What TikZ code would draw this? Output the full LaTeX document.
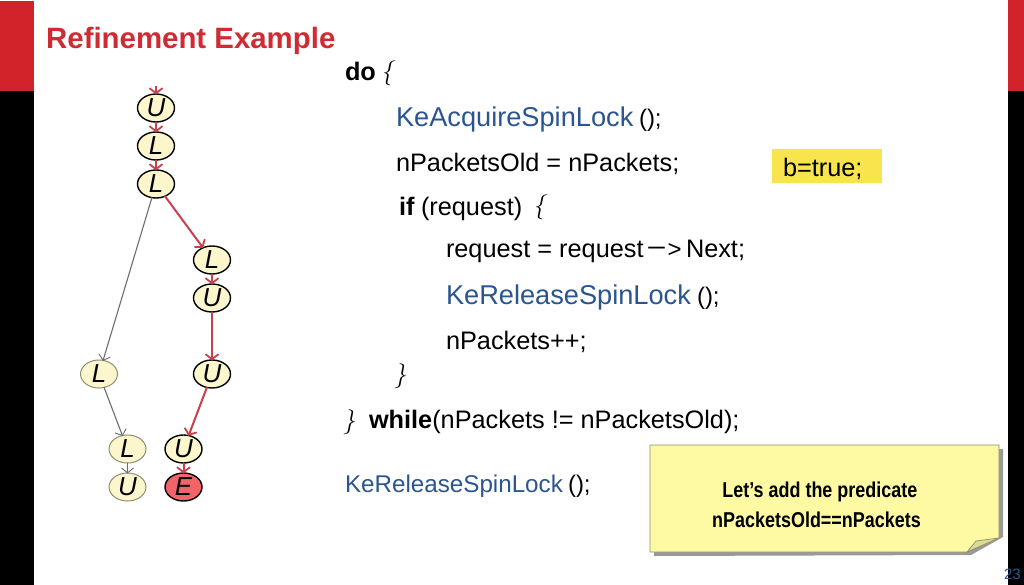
\documentclass[tikz,border=0pt]{standalone}
\usepackage{fontspec}
\setmainfont{Liberation Sans}
\usetikzlibrary{shapes.geometric,arrows.meta}
\definecolor{bandred}{HTML}{D2232A}
\definecolor{titlered}{HTML}{CF2B33}
\definecolor{arrowred}{HTML}{C8404A}
\definecolor{nodefill}{HTML}{FBF6CB}
\definecolor{codeblue}{HTML}{2A5590}
\definecolor{noteyellow}{HTML}{FEFAA4}
\definecolor{foldyellow}{HTML}{DEDB92}
\definecolor{hilite}{HTML}{F8E44C}
\definecolor{errfill}{HTML}{F2646A}
\tikzset{
  x=1pt,y=-1pt,
  band/.style={fill=#1,draw=none},
  code/.style={anchor=base west,inner sep=0pt,outer sep=0pt,font=\fontsize{25.3}{26}\selectfont,text=black},
  big code/.style={code,font=\fontsize{27.2}{28}\selectfont},
  brace/.style={code,xslant=.2,font=\fontsize{28}{28}\selectfont},
  cfg/.style={ellipse,draw=black,line width=1.4pt,fill=nodefill,minimum width=37pt,minimum height=28pt,inner sep=0pt,font=\fontsize{26}{26}\itshape\selectfont},
  dim cfg/.style={cfg,draw=gray!80!olive,line width=1pt},
  redge/.style={draw=arrowred,line width=2pt,-{Straight Barb[length=5pt,width=13pt,line width=1.8pt]},shorten >=-1pt,shorten <=-1pt},
  gedge/.style={draw=gray!85!black,line width=1.1pt,-{Straight Barb[length=5pt,width=12pt,line width=.9pt]},shorten >=-1pt,shorten <=-1pt},
}
\begin{document}
\begin{tikzpicture}
\useasboundingbox (0,0) rectangle (1024,585);
\fill[white] (0,0) rectangle (1024,585);
% bands
\fill[band=bandred] (0,1) rectangle (34,91);
\fill[band=black] (0,91) rectangle (34,585);
\fill[band=bandred] (1008,0) rectangle (1024,91);
\fill[band=black] (1008,91) rectangle (1024,585);
% title
\node[anchor=base west,inner sep=0pt,text=titlered,font=\fontsize{29.4}{30}\bfseries\selectfont] (title) at (46,49) {Refinement Example};
% nodes
\coordinate (top) at (156,87);
\node[cfg] (u1) at (156,108) {U};
\node[cfg] (l1) at (156,146) {L};
\node[cfg] (l2) at (156,184) {L};
\node[cfg] (l3) at (212,260) {L};
\node[cfg] (u2) at (212,298) {U};
\node[dim cfg] (l4) at (99,374) {L};
\node[cfg] (u3) at (212,374) {U};
\node[dim cfg] (l5) at (127.5,449) {L};
\node[cfg] (u4) at (183.5,449) {U};
\node[dim cfg] (u5) at (127.5,487) {U};
\node[cfg,fill=errfill] (e) at (183.5,487) {E};
% edges
\draw[redge] (top) -- (u1);
\draw[redge] (u1) -- (l1);
\draw[redge] (l1) -- (l2);
\draw[redge] (l2) -- (l3);
\draw[redge] (l3) -- (u2);
\draw[redge] (u2) -- (u3);
\draw[redge] (u3) -- (u4);
\draw[redge] (u4) -- (e);
\draw[gedge] (l2) -- (l4);
\draw[gedge] (l4) -- (l5);
\draw[gedge] (l5) -- (u5);
% code
\node[code,font=\fontsize{25.3}{26}\bfseries\selectfont] (c1) at (345,81) {do};
\node[brace] (c1b) at (381,80) {$\{$};
\node[big code,text=codeblue] (c2) at (396,127) {KeAcquireSpinLock};
\node[code,font=\fontsize{24}{25}\selectfont] (c2b) at (639,127) {();};
\node[code] (c3) at (396,172) {nPacketsOld = nPackets;};
\node[code] (c4) at (399,215) {\bfseries if};
\node[code] (c4b) at (421,215) {(request)};
\node[brace] (c4c) at (533,214) {$\{$};
\node[code] (c5) at (446,257) {request = request};
\node[code,xscale=1.35] (c5b) at (646.5,256) {−};
\node[code,font=\fontsize{24}{25}\selectfont] (c5c) at (667.5,257) {>};
\node[code] (c5d) at (686,257) {Next;};
\node[big code,text=codeblue] (c6) at (446,304) {KeReleaseSpinLock};
\node[code,font=\fontsize{24}{25}\selectfont] (c6b) at (697,304) {();};
\node[code] (c7) at (446,349) {nPackets++;};
\node[brace] (c8) at (394,382) {$\}$};
\node[brace] (c9) at (343,428) {$\}$};
\node[code] (c9b) at (369,428) {\bfseries while\mdseries(nPackets != nPacketsOld);};
\node[code,font=\fontsize{24.2}{25}\selectfont,text=codeblue] (c10) at (345,492) {KeReleaseSpinLock};
\node[code,font=\fontsize{24}{25}\selectfont] (c10b) at (568,492) {();};
% highlight
\path[fill=hilite] (772,149) rectangle (882,183);
\node[code] (b) at (783,177) {b=true;};
% note
\fill[black!40] (654,449) -- (1003,449) -- (1003,537) -- (971,555) -- (654,556) -- cycle;
\path[fill=noteyellow,draw=gray!80!olive,line width=.7pt] (650,445) -- (999,445) -- (999,538) -- (967,552) -- (650,552) -- cycle;
\path[fill=foldyellow,draw=gray!80!olive,line width=.7pt] (967,552) -- (999,538) -- (976,541) -- cycle;
\node[inner sep=0pt,font=\fontsize{21.5}{30}\bfseries\selectfont,align=center,xscale=.835] (note) at (816.5,505) {\hspace*{8pt}Let’s add the predicate\\nPacketsOld==nPackets};
% page number
\node[anchor=base east,inner sep=0pt,text=codeblue,font=\fontsize{15}{15}\selectfont] (pg) at (1021,579) {23};
\end{tikzpicture}
\end{document}
